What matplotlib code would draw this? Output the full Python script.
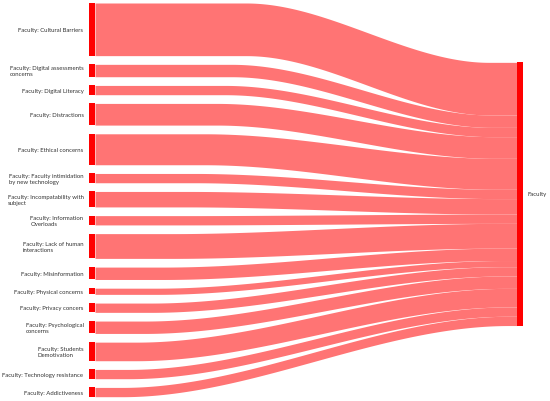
import numpy as np
import matplotlib
matplotlib.use("Agg")
import matplotlib.pyplot as plt
from matplotlib.patches import Rectangle

# ---------------- data ----------------
source_labels = [
    "Faculty: Cultural Barriers",
    "Faculty: Digital assessments\nconcerns",
    "Faculty: Digital Literacy",
    "Faculty: Distractions",
    "Faculty: Ethical concerns",
    "Faculty: Faculty intimidation\nby new technology",
    "Faculty: Incompatability with\nsubject",
    "Faculty: Information\nOverloads",
    "Faculty: Lack of human\ninteractions",
    "Faculty: Misinformation",
    "Faculty: Physical concerns",
    "Faculty: Privacy concers",
    "Faculty: Psychological\nconcerns",
    "Faculty: Students\nDemotivation",
    "Faculty: Technology resistance",
    "Faculty: Addictiveness",
]
source_values = [17, 4, 3, 7, 10, 3, 5, 3, 8, 4, 2, 3, 4, 6, 3, 3]
target_label = "Faculty"

# ---------------- style / layout ----------------
W, H = 550, 402
node_color = "#ff0000"
link_color = "#ff7474"
text_color = "#333333"
font_family = ["Lato", "DejaVu Sans"]
font_size = 4.3

left_x0, left_x1 = 89, 95          # source node column (px)
right_x0, right_x1 = 517, 523      # target node column (px)
top_margin, bottom_margin = 4.0, 4.3
pad_px = 8.7
target_center_frac = 0.485

n = len(source_values)
total = float(sum(source_values))
extent_px = H - top_margin - bottom_margin
ky = (extent_px - (n - 1) * pad_px) / total       # px per unit
pad = pad_px / ky                                  # padding in value units
extent = total + (n - 1) * pad

fig = plt.figure(figsize=(W / 100, H / 100), dpi=100)
ax = fig.add_axes([0, 0, 1, 1])
ax.set_xlim(0, W)
ax.set_ylim((H - top_margin) / ky, -top_margin / ky)
ax.axis("off")

# source node positions (value units)
src_top = []
y = 0.0
for v in source_values:
    src_top.append(y)
    y += v + pad

# target node
tgt_center = target_center_frac * extent
tgt_top = tgt_center - total / 2

# links
xs = np.linspace(left_x1, right_x0, 400)
d = right_x0 - left_x1
t_cursor = tgt_top
for i, v in enumerate(source_values):
    s0 = src_top[i]
    t0 = t_cursor
    t_cursor += v
    s = (s0 + v / 2) / extent
    a = 0.38 - 0.32 * s
    b = 0.93 + 0.05 * s
    u = np.clip((xs - left_x1 - a * d) / ((b - a) * d), 0, 1)
    f = u * u * (3 - 2 * u)
    top = s0 + (t0 - s0) * f
    ax.fill_between(xs, top, top + v, color=link_color, lw=0, zorder=1)

# nodes
for i, v in enumerate(source_values):
    ax.add_patch(Rectangle((left_x0, src_top[i]), left_x1 - left_x0, v,
                           facecolor=node_color, edgecolor="none", zorder=2))
    ax.text(left_x0 - 5.5, src_top[i] + v / 2, source_labels[i], ha="right",
            va="center", multialignment="left", fontsize=font_size,
            family=font_family, color=text_color, linespacing=1.25)

ax.add_patch(Rectangle((right_x0, tgt_top), right_x1 - right_x0, total,
                       facecolor=node_color, edgecolor="none", zorder=2))
ax.text(right_x1 + 5, tgt_top + total / 2, target_label, ha="left", va="center",
        fontsize=font_size, family=font_family, color=text_color)

fig.savefig("out.png", dpi=100)
